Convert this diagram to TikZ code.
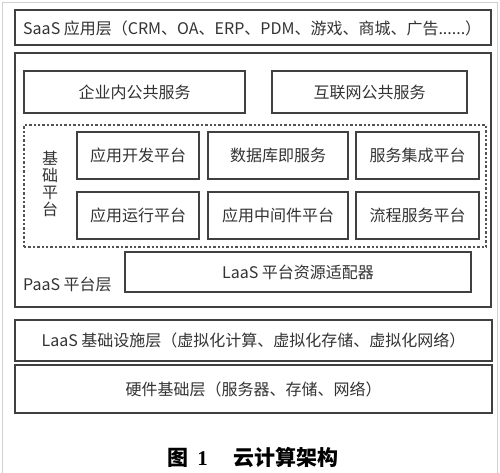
\documentclass[tikz,border=0pt]{standalone}
\usepackage{fontspec}
\setmainfont{Noto Sans CJK SC}
\newfontfamily\capnum{Liberation Serif}
\definecolor{ln}{HTML}{404040}
\definecolor{tx}{HTML}{333333}
\definecolor{frm}{HTML}{D0D0D0}
\begin{document}
\begin{tikzpicture}[x=1pt,y=-1pt,
  box/.style={draw=ln, line width=1.3pt, inner sep=0pt, text=tx, font=\fontsize{16}{18}\selectfont},
  dbox/.style={draw=ln!90, line width=1.3pt, dash pattern=on 2.4pt off 2pt, inner sep=0pt},
  lbl/.style={inner sep=0pt, text=tx, font=\fontsize{16}{18}\selectfont}]
\useasboundingbox (0,0) rectangle (500,473);
\fill[white] (0,0) rectangle (500,473);
\draw[frm, line width=1pt] (2,473) -- (2,3) -- (497.5,3) -- (497.5,473);
% SaaS
\node[box, minimum width=476pt, minimum height=35pt] (saas) at (253,27.5) {};
\node[lbl, anchor=west] (saastx) at (23,28) {SaaS 应用层（CRM、OA、ERP、PDM、游戏、商城、广告......）};
% PaaS
\node[box, minimum width=476pt, minimum height=254pt] (paas) at (253,180) {};
\node[box, minimum width=221pt, minimum height=42pt] (ent) at (134.5,92) {企业内公共服务};
\node[box, minimum width=195pt, minimum height=42pt] (inet) at (369.5,92) {互联网公共服务};
\node[dbox, minimum width=462pt, minimum height=122pt] (base) at (255,186) {};
\node[lbl, align=center, font=\fontsize{16}{17}\selectfont] (basetx) at (50,184) {基\\础\\平\\台};
\node[box, minimum width=122pt, minimum height=47pt] (dev) at (138,155.5) {应用开发平台};
\node[box, minimum width=140pt, minimum height=47pt] (db) at (278,155.5) {数据库即服务};
\node[box, minimum width=123pt, minimum height=47pt] (integ) at (417.5,155.5) {服务集成平台};
\node[box, minimum width=122pt, minimum height=47pt] (run) at (138,215.5) {应用运行平台};
\node[box, minimum width=140pt, minimum height=47pt] (mid) at (278,215.5) {应用中间件平台};
\node[box, minimum width=123pt, minimum height=47pt] (flow) at (417.5,215.5) {流程服务平台};
\node[box, minimum width=346pt, minimum height=40pt] (adapt) at (298,272) {LaaS 平台资源适配器};
\node[lbl, anchor=west] (paastx) at (23,284) {PaaS 平台层};
% LaaS & hardware
\node[box, minimum width=477pt, minimum height=41pt] (laas) at (253.5,340.5) {LaaS 基础设施层（虚拟化计算、虚拟化存储、虚拟化网络）};
\node[box, minimum width=477pt, minimum height=48pt] (hw) at (253.5,389) {硬件基础层（服务器、存储、网络）};
% caption
\node[inner sep=0pt, text=black, font=\fontsize{21}{24}\selectfont\bfseries] (cap) at (253,458) {图\hspace{0.4em}{\capnum\bfseries 1}\hspace{1.2em}云计算架构};
\end{tikzpicture}
\end{document}
